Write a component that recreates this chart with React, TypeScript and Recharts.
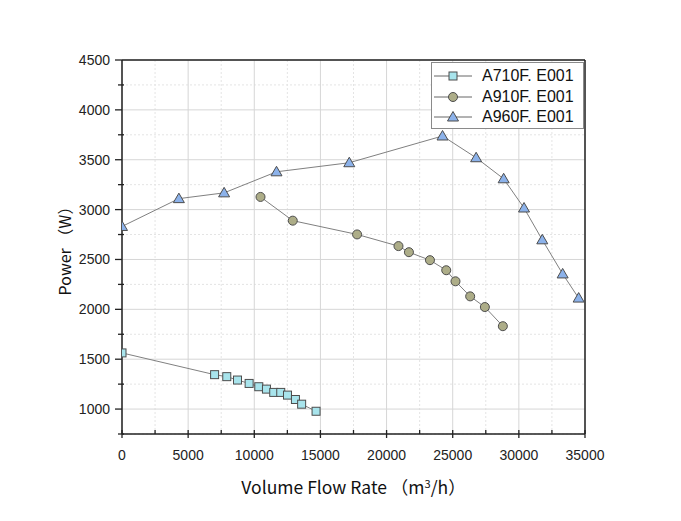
import React from 'react';
import { LineChart, Line, XAxis, YAxis, CartesianGrid, Legend, ReferenceLine } from 'recharts';

// flow rate (m3/h) and power (W)
const a710Flow = [0, 7000, 7920, 8730, 9610, 10340, 10920, 11470, 12000, 12510, 13110, 13580, 14670];
const a710Power = [1563, 1345, 1325, 1291, 1257, 1224, 1200, 1167, 1167, 1140, 1096, 1049, 978];

const a910Flow = [10470, 12910, 17770, 20900, 21690, 23280, 24510, 25210, 26320, 27430, 28790];
const a910Power = [3127, 2889, 2751, 2634, 2573, 2493, 2392, 2281, 2130, 2023, 1831];

const a960Flow = [0, 4300, 7720, 11680, 17180, 24230, 26770, 28850, 30390, 31770, 33310, 34520];
const a960Power = [2831, 3110, 3168, 3379, 3470, 3738, 3520, 3309, 3016, 2697, 2355, 2113];

const seriesNames = ['A710F. E001', 'A910F. E001', 'A960F. E001'];

const xMajor = [0, 5000, 10000, 15000, 20000, 25000, 30000, 35000];
const xMinor = [2500, 7500, 12500, 17500, 22500, 27500, 32500];
const yMajor = [1000, 1500, 2000, 2500, 3000, 3500, 4000, 4500];
const yMinor = [750, 1250, 1750, 2250, 2750, 3250, 3750, 4250];

const toRows = (xs: number[], ys: number[]) => xs.map((x, i) => ({ flow: x, power: ys[i] }));

const MARK_STROKE = '#4d4d4d';
const colors = ['#a8e4ec', '#adad88', '#8cb2ea'];

const Marker = ({ kind, cx, cy }: { kind: number; cx: number; cy: number }) => {
  if (kind === 0) {
    return <rect x={cx - 4} y={cy - 4} width={8} height={8} fill={colors[0]} stroke={MARK_STROKE} strokeWidth={1} />;
  }
  if (kind === 1) {
    return <circle cx={cx} cy={cy} r={4.5} fill={colors[1]} stroke={MARK_STROKE} strokeWidth={1} />;
  }
  return (
    <polygon
      points={`${cx},${cy - 5.5} ${cx + 5.5},${cy + 4} ${cx - 5.5},${cy + 4}`}
      fill={colors[2]}
      stroke={MARK_STROKE}
      strokeWidth={1}
    />
  );
};

const makeDot = (kind: number) => (props: any) => {
  const { cx, cy, index } = props;
  if (cx == null || cy == null) return <g key={index} />;
  return (
    <g key={`${kind}-${index}`}>
      <Marker kind={kind} cx={cx} cy={cy} />
    </g>
  );
};

const XTick = (props: any) => {
  const { x, y, payload } = props;
  const major = payload.value % 5000 === 0;
  return (
    <g>
      {major ? (
        <line x1={x} x2={x} y1={y - 4} y2={y + 4} stroke="#222" strokeWidth={1.3} />
      ) : (
        <line x1={x} x2={x} y1={y - 4} y2={y} stroke="#222" strokeWidth={1.3} />
      )}
      {major && (
        <text x={x} y={y + 26} textAnchor="middle" fontSize={14} fontFamily="Liberation Sans, Arial" fill="#222">
          {payload.value}
        </text>
      )}
    </g>
  );
};

const YTick = (props: any) => {
  const { x, y, payload } = props;
  const major = payload.value % 500 === 0;
  return (
    <g>
      {major ? (
        <line x1={x - 7} x2={x} y1={y} y2={y} stroke="#222" strokeWidth={1.3} />
      ) : (
        <line x1={x - 4} x2={x + 2} y1={y} y2={y} stroke="#222" strokeWidth={1.3} />
      )}
      {major && (
        <text x={x - 12} y={y + 5} textAnchor="end" fontSize={14} fontFamily="Liberation Sans, Arial" fill="#222">
          {payload.value}
        </text>
      )}
    </g>
  );
};

const LegendBox = () => (
  <div
    style={{
      width: 153,
      height: 67,
      border: '1px solid #8a8a8a',
      background: '#fff',
      boxSizing: 'border-box',
      paddingTop: 3,
    }}
  >
    {seriesNames.map((name, i) => (
      <div key={name} style={{ display: 'flex', alignItems: 'center', height: 20.5, lineHeight: '18px' }}>
        <svg width={48} height={20} style={{ marginLeft: 2, flexShrink: 0 }}>
          <line x1={0} x2={38} y1={10} y2={10} stroke="#666" strokeWidth={1} />
          <Marker kind={i} cx={19} cy={10} />
        </svg>
        <span
          style={{
            fontFamily: '"Liberation Sans", Arial',
            fontSize: 16,
            lineHeight: '18px',
            color: '#111',
            whiteSpace: 'nowrap',
          }}
        >
          {name}
        </span>
      </div>
    ))}
  </div>
);

const XLabel = (props: any) => {
  const { viewBox } = props;
  return (
    <text
      x={viewBox.x + viewBox.width / 2}
      y={viewBox.y + 60}
      textAnchor="middle"
      fontSize={17.5}
      fontFamily='"Noto Sans CJK SC"'
      fill="#111"
    >
      Volume Flow Rate （m<tspan dy={-6} fontSize={11}>3</tspan>
      <tspan dy={6}>/h）</tspan>
    </text>
  );
};

const YLabel = (props: any) => {
  const { viewBox } = props;
  const cx = 56;
  const cy = viewBox.y + viewBox.height / 2;
  return (
    <text
      x={cx}
      y={cy}
      transform={`rotate(-90 ${cx} ${cy})`}
      textAnchor="middle"
      dominantBaseline="central"
      fontSize={16}
      fontFamily='"Noto Sans CJK SC"'
      fill="#111"
    >
      Power （W）
    </text>
  );
};

export default function App() {
  const rows = [toRows(a710Flow, a710Power), toRows(a910Flow, a910Power), toRows(a960Flow, a960Power)];
  return (
    <div style={{ width: 673, height: 513 }}>
      <LineChart width={673} height={513} margin={{ top: 52, right: 96, left: 0, bottom: 0 }}>
        <CartesianGrid verticalValues={xMinor} horizontalValues={yMinor} stroke="#e4e4e4" strokeDasharray="2 2" />
        <CartesianGrid verticalValues={xMajor} horizontalValues={yMajor} stroke="#d6d6d6" />
        <XAxis
          dataKey="flow"
          type="number"
          domain={[0, 35000]}
          ticks={[...xMajor, ...xMinor].sort((a, b) => a - b)}
          interval={0}
          tickSize={0}
          tickMargin={0}
          tickLine={false}
          tick={<XTick />}
          height={87}
          axisLine={{ stroke: '#222', strokeWidth: 1.5 }}
          allowDataOverflow
          label={<XLabel />}
        />
        <YAxis
          dataKey="power"
          type="number"
          domain={[750, 4500]}
          ticks={[...yMinor, ...yMajor].sort((a, b) => a - b)}
          interval={0}
          tickSize={0}
          tickMargin={0}
          tickLine={false}
          tick={<YTick />}
          width={114}
          axisLine={{ stroke: '#222', strokeWidth: 1.5 }}
          allowDataOverflow
          label={<YLabel />}
        />
        <ReferenceLine y={4500} stroke="#222" strokeWidth={1.5} />
        <ReferenceLine x={35000} stroke="#222" strokeWidth={1.5} />
        {rows.map((data, i) => (
          <Line
            key={seriesNames[i]}
            data={data}
            dataKey="power"
            name={seriesNames[i]}
            type="linear"
            stroke="#808080"
            strokeWidth={1}
            dot={makeDot(i)}
            activeDot={false}
            isAnimationActive={false}
          />
        ))}
        <Legend
          layout="horizontal"
          verticalAlign="middle"
          align="center"
          content={<LegendBox />}
          wrapperStyle={{ position: 'absolute', top: 54, left: 423, width: 153, height: 67 }}
        />
      </LineChart>
    </div>
  );
}
